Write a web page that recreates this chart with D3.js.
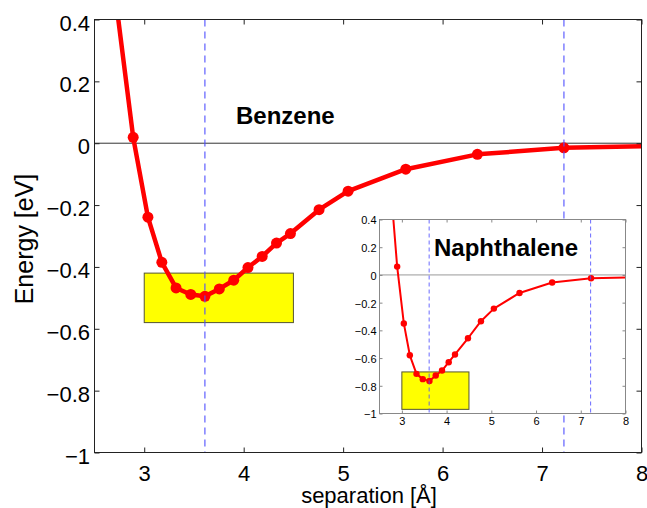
<!DOCTYPE html>
<html>
<head>
<meta charset="utf-8">
<script src="https://cdn.jsdelivr.net/npm/d3@7"></script>
<style>
  html, body { margin: 0; padding: 0; background: #fff; }
  svg { display: block; }
  text { font-family: "Liberation Sans", Arial, Helvetica, sans-serif; }
</style>
</head>
<body>
<svg id="chart" width="647" height="508"></svg>
<script>
// ---------------- data ----------------
const benzeneX = [2.70, 2.889, 3.037, 3.177, 3.32, 3.468, 3.61, 3.755, 3.90, 4.043, 4.186, 4.33, 4.47, 4.758, 5.05, 5.63, 6.35, 7.22, 9.0];
const benzeneY = [0.50, 0.019, -0.239, -0.385, -0.468, -0.489, -0.495, -0.471, -0.443, -0.402, -0.366, -0.323, -0.292, -0.215, -0.155, -0.084, -0.036, -0.015, -0.003];

const naphX = [2.75, 2.895, 3.044, 3.178, 3.327, 3.468, 3.617, 3.757, 3.898, 4.047, 4.188, 4.478, 4.768, 5.057, 5.63, 6.36, 7.23, 9.0];
const naphY = [0.64, 0.06, -0.35, -0.58, -0.714, -0.752, -0.765, -0.726, -0.69, -0.63, -0.574, -0.457, -0.334, -0.243, -0.13, -0.055, -0.024, -0.012];

const benzeneBox = [3.0, 4.5, -0.58, -0.42];   // x0, x1, y0, y1
const naphBox = [3.0, 4.5, -0.97, -0.70];
const dashedX = [3.61, 7.22];

const xTicks = [3, 4, 5, 6, 7, 8];
const yTicks = [-1, -0.8, -0.6, -0.4, -0.2, 0, 0.2, 0.4];
const xDomain = [2.5, 8];
const yDomain = [-1, 0.4];

const xLabel = "separation [Å]";
const yLabel = "Energy [eV]";
const mainTitle = "Benzene";
const insetTitle = "Naphthalene";

// ---------------- drawing ----------------
const svg = d3.select("#chart");
const fmt = d => (d < 0 ? "\u2212" + Math.abs(d) : String(d));

function panel(g, opts) {
  const { x0, x1, y0, y1, lw, r, tick, fs, frameColor, zeroColor,
          dash, dashW, xs_, ys_, box, id, ylabDy, xPad, yPad } = opts;
  const x = d3.scaleLinear().domain(xDomain).range([x0, x1]);
  const y = d3.scaleLinear().domain(yDomain).range([y1, y0]);

  g.append("rect").attr("x", x0).attr("y", y0).attr("width", x1 - x0).attr("height", y1 - y0)
    .attr("fill", "#fff");

  g.append("clipPath").attr("id", id).append("rect")
    .attr("x", x0).attr("y", y0).attr("width", x1 - x0).attr("height", y1 - y0);

  const plot = g.append("g").attr("clip-path", `url(#${id})`);

  // zero line
  plot.append("line").attr("x1", x0).attr("x2", x1).attr("y1", y(0)).attr("y2", y(0))
    .attr("stroke", zeroColor).attr("stroke-width", 1);

  // yellow box
  plot.append("rect")
    .attr("x", x(box[0])).attr("width", x(box[1]) - x(box[0]))
    .attr("y", y(box[3])).attr("height", y(box[2]) - y(box[3]))
    .attr("fill", "#ffff00").attr("stroke", "#555533").attr("stroke-width", 1);

  const pts = xs_.map((v, i) => [v, ys_[i]]);
  plot.append("path").datum(pts)
    .attr("d", d3.line().x(d => x(d[0])).y(d => y(d[1])))
    .attr("fill", "none").attr("stroke", "#ff0000").attr("stroke-width", lw)
    .attr("stroke-linejoin", "round");
  plot.selectAll("circle.m").data(pts).enter().append("circle")
    .attr("cx", d => x(d[0])).attr("cy", d => y(d[1])).attr("r", r).attr("fill", "#ff0000");

  // dashed lines
  plot.selectAll("line.d").data(dashedX).enter().append("line")
    .attr("x1", d => x(d)).attr("x2", d => x(d)).attr("y1", y0).attr("y2", y1)
    .attr("stroke", "#5050ff").attr("stroke-opacity", 0.85).attr("stroke-width", dashW)
    .attr("stroke-dasharray", dash);

  // axes
  const ax = (gen, tx, ty) => {
    const a = g.append("g").attr("transform", `translate(${tx},${ty})`).call(gen);
    a.select(".domain").remove();
    a.selectAll(".tick line").attr("stroke", frameColor);
    a.selectAll("text").attr("font-size", fs).attr("fill", "#000");
    return a;
  };
  ax(d3.axisBottom(x).tickValues(xTicks).tickSizeInner(-tick).tickSizeOuter(0)
      .tickPadding(xPad).tickFormat(fmt), 0, y1);
  ax(d3.axisTop(x).tickValues(xTicks).tickSizeInner(-tick).tickSizeOuter(0).tickFormat(""), 0, y0);
  const la = ax(d3.axisLeft(y).tickValues(yTicks).tickSizeInner(-tick).tickSizeOuter(0)
      .tickPadding(yPad).tickFormat(fmt), x0, 0);
  la.selectAll("text").attr("dy", ylabDy);
  ax(d3.axisRight(y).tickValues(yTicks).tickSizeInner(-tick).tickSizeOuter(0).tickFormat(""), x1, 0);

  g.append("rect").attr("x", x0).attr("y", y0).attr("width", x1 - x0).attr("height", y1 - y0)
    .attr("fill", "none").attr("stroke", frameColor).attr("stroke-width", 1);

  return { x, y };
}

// main panel
const mainG = svg.append("g");
panel(mainG, {
  x0: 94.5, x1: 641.5, y0: 19.5, y1: 452.5,
  xs_: benzeneX, ys_: benzeneY, lw: 4.5, r: 5.5, tick: 5, fs: "22px",
  frameColor: "#222", zeroColor: "#333", dash: "7,5", dashW: 1.3,
  box: benzeneBox, id: "clipMain", ylabDy: "0.48em", xPad: 13, yPad: 4.5
});

mainG.append("text").attr("x", 369).attr("y", 503).attr("text-anchor", "middle")
  .attr("font-size", "22px").text(xLabel);
mainG.append("text").attr("transform", "translate(32.5,239) rotate(-90)")
  .attr("text-anchor", "middle").attr("font-size", "25px").text(yLabel);
mainG.append("text").attr("x", 236).attr("y", 124).attr("font-size", "24px")
  .attr("font-weight", "bold").text(mainTitle);

// inset panel
const insetG = svg.append("g");
panel(insetG, {
  x0: 379.5, x1: 625.5, y0: 219.5, y1: 413.5,
  xs_: naphX, ys_: naphY, lw: 2, r: 3.2, tick: 3, fs: "11px",
  frameColor: "#888", zeroColor: "#999", dash: "4,3", dashW: 1,
  box: naphBox, id: "clipInset", ylabDy: "0.4em", xPad: 3.7, yPad: 3
});
insetG.append("text").attr("x", 434).attr("y", 256).attr("font-size", "24px")
  .attr("font-weight", "bold").text(insetTitle);
</script>
</body>
</html>
